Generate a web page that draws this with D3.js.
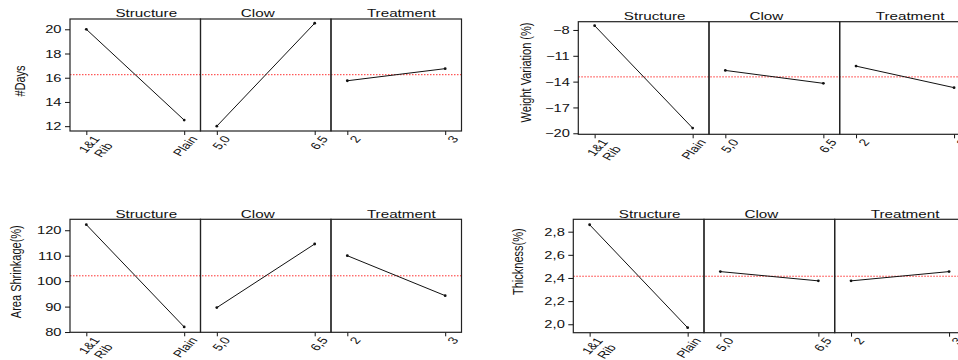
<!DOCTYPE html>
<html><head><meta charset="utf-8">
<script src="https://cdn.jsdelivr.net/npm/d3@7"></script>
<style>body{margin:0;background:#fff}svg{display:block}text{font-family:"Liberation Sans",Arial,sans-serif;fill:#111}</style>
</head><body><svg id="c" width="958" height="360"></svg>
<script>
// ---- data ----
const factors = ["Structure", "Clow", "Treatment"];
const structureLevels = ["1&1\nRib", "Plain"];
const clowLevels = ["5,0", "6,5"];
const treatmentLevels = ["2", "3"];
const responses = ["#Days", "Weight Variation (%)", "Area Shrinkage(%)", "Thickness(%)"];
const daysMeans = [20.0, 12.5, 12.0, 20.5, 15.75, 16.75];
const weightMeans = [-7.5, -19.4, -12.7, -14.2, -12.2, -14.7];
const areaMeans = [122.2, 82.0, 89.6, 114.6, 110.0, 94.3];
const thickMeans = [2.86, 1.97, 2.455, 2.375, 2.375, 2.455];
const grandMeans = [16.25, -13.45, 102.1, 2.415];
const daysTicks = [12, 14, 16, 18, 20];
const weightTicks = [-20, -17, -14, -11, -8];
const areaTicks = [80, 90, 100, 110, 120];
const thickTicks = [2.0, 2.2, 2.4, 2.6, 2.8];

// ---- layout ----
const SX = 1.4;
const layouts = [
  {left: 70, top: 19, bottom: 131, pw: 130.5, lx: 20, ly: 81, dom: [11.6, 20.85], dec: 0},
  {left: 578.3, top: 21.7, bottom: 134.3, pw: 130.7, lx: 526, ly: 72.5, dom: [-20.12, -7.04], dec: 0},
  {left: 70, top: 219.3, bottom: 332.3, pw: 130.5, lx: 16, ly: 271.7, dom: [79.9, 124.3], dec: 0},
  {left: 573.3, top: 219.3, bottom: 332.7, pw: 130.7, lx: 518, ly: 261.7, dom: [1.927, 2.907], dec: 1}
];
const titleOffsets = [11, -8, 5];

const allMeans = [daysMeans, weightMeans, areaMeans, thickMeans];
const allTicks = [daysTicks, weightTicks, areaTicks, thickTicks];
const levelSets = [structureLevels, clowLevels, treatmentLevels];

const svg = d3.select("#c");
const fmt = (dec) => (v) => d3.format("." + dec + "f")(v).replace(".", ",");

allMeans.forEach((means, ci) => {
  const L = layouts[ci];
  const g = svg.append("g");
  const y = d3.scaleLinear().domain(L.dom).range([L.bottom, L.top]);
  const right = L.left + L.pw * 3;

  // grand mean line
  g.append("line")
    .attr("x1", L.left).attr("x2", right)
    .attr("y1", y(grandMeans[ci])).attr("y2", y(grandMeans[ci]))
    .attr("stroke", "#ff3030").attr("stroke-width", 1).attr("stroke-dasharray", "1.5,1.5");

  factors.forEach((f, fi) => {
    const x0 = L.left + fi * L.pw;
    const x = d3.scalePoint().domain(levelSets[fi]).range([x0, x0 + L.pw]).padding(1 / 6);
    const vals = levelSets[fi].map((lv, k) => ({lv, v: means[fi * 2 + k]}));
    g.append("path").datum(vals)
      .attr("fill", "none").attr("stroke", "#111").attr("stroke-width", 1)
      .attr("d", d3.line().x(d => x(d.lv)).y(d => y(d.v)));
    g.selectAll(null).data(vals).enter().append("circle")
      .attr("cx", d => x(d.lv)).attr("cy", d => y(d.v)).attr("r", 1.4).attr("fill", "#111");

    // x axis ticks + labels
    const ax = g.append("g").attr("transform", `translate(0,${L.bottom})`)
      .call(d3.axisBottom(x).tickSize(4).tickSizeOuter(0).tickFormat(""));
    ax.select(".domain").remove();
    ax.selectAll(".tick line").attr("stroke", "#111");
    levelSets[fi].forEach(lv => {
      const t = g.append("text")
        .attr("transform", `translate(${x(lv) + 14},${L.bottom + 8}) scale(${SX},1) rotate(-54)`)
        .attr("text-anchor", "end").attr("font-size", 10);
      lv.split("\n").forEach((s, i) => {
        t.append("tspan").attr("x", 0).attr("dy", i === 0 ? 0 : "1.15em").text(s);
      });
    });

    // panel title
    g.append("text")
      .attr("transform", `translate(${x0 + L.pw / 2 + titleOffsets[fi]},${L.top - 1.8}) scale(${SX + 0.05},1)`)
      .attr("text-anchor", "middle").attr("font-size", 10.5).text(f);

    // frame
    g.append("rect").attr("x", x0).attr("y", L.top).attr("width", L.pw).attr("height", L.bottom - L.top)
      .attr("fill", "none").attr("stroke", "#222").attr("stroke-width", 1.2);
  });

  // y axis
  const ay = g.append("g").attr("transform", `translate(${L.left},0)`)
    .call(d3.axisLeft(y).tickValues(allTicks[ci]).tickSize(5).tickFormat(fmt(L.dec)));
  ay.select(".domain").remove();
  ay.selectAll(".tick line").attr("stroke", "#111");
  ay.selectAll(".tick text")
    .attr("x", 0).attr("dy", "0.35em")
    .attr("transform", `translate(-8.5,0) scale(${SX},1)`)
    .attr("font-size", 10.5).attr("font-family", "Liberation Sans, Arial, sans-serif").attr("fill", "#111");

  // y label
  g.append("text")
    .attr("transform", `translate(${L.lx + 5},${L.ly}) scale(${SX},1) rotate(-90)`)
    .attr("text-anchor", "middle").attr("font-size", 11).text(responses[ci]);
});
</script></body></html>
